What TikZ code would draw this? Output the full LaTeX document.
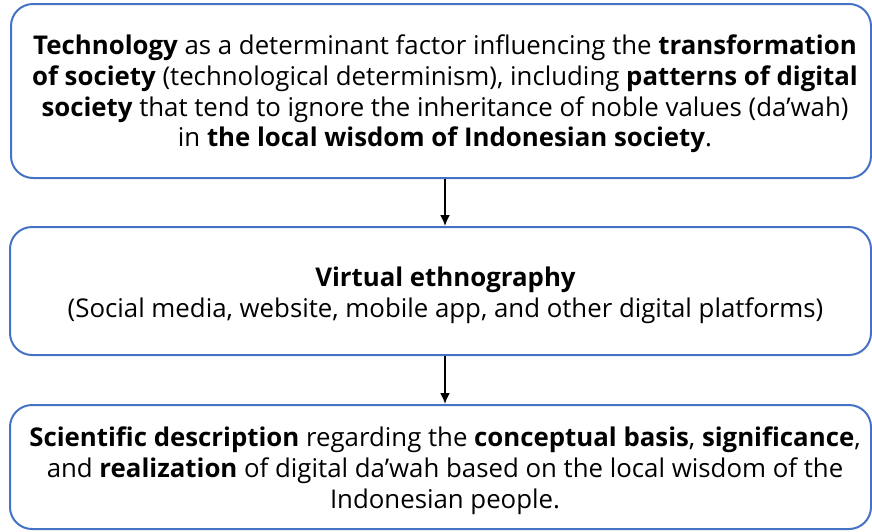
\documentclass[tikz,border=0pt]{standalone}
\usepackage{fontspec}
\setmainfont{Open Sans}
\usetikzlibrary{arrows.meta}
\definecolor{boxblue}{HTML}{4472C4}
\tikzset{
  flowbox/.style={draw=boxblue, line width=2pt, rounded corners=22pt, inner sep=0pt},
  boxtext/.style={align=center, inner sep=0pt, font=\fontsize{25.8}{30.8}\selectfont},
  flowarrow/.style={draw=black, line width=1.8pt, -{Latex[length=11pt,width=10pt]}}
}
\begin{document}
\begin{tikzpicture}[x=1pt,y=1pt]
\useasboundingbox (0,0) rectangle (872,-531);
% the three stages
\node[flowbox, minimum width=860pt, minimum height=174pt] (b1) at (441,-91) {};
\node[flowbox, minimum width=861pt, minimum height=128pt] (b2) at (440.5,-291) {};
\node[flowbox, minimum width=861pt, minimum height=124pt] (b3) at (440.5,-467) {};
% their texts
\node[boxtext] (t1) at ([xshift=4pt,yshift=-3pt]b1.center)
  {\textbf{Technology} as a determinant factor influencing the \textbf{transformation}\\
   \textbf{of society} (technological determinism), including \textbf{patterns of digital}\\
   \textbf{society} that tend to ignore the inheritance of noble values (da’wah)\\
   in \textbf{the local wisdom of Indonesian society}.};
\node[boxtext] (t2) at ([xshift=5pt,yshift=-4pt]b2.center)
  {\textbf{Virtual ethnography}\\
   (Social media, website, mobile app, and other digital platforms)};
\node[boxtext] (t3) at ([xshift=4.5pt,yshift=-3.5pt]b3.center)
  {\textbf{Scientific description} regarding the \textbf{conceptual basis}, \textbf{significance},\\
   and \textbf{realization} of digital da’wah based on the local wisdom of the\\
   Indonesian people.};
% flow arrows
\draw[flowarrow] ([xshift=4pt]b1.south) -- ([xshift=4.5pt]b2.north);
\draw[flowarrow] ([xshift=4.5pt]b2.south) -- ([xshift=4.5pt]b3.north);
\end{tikzpicture}
\end{document}
